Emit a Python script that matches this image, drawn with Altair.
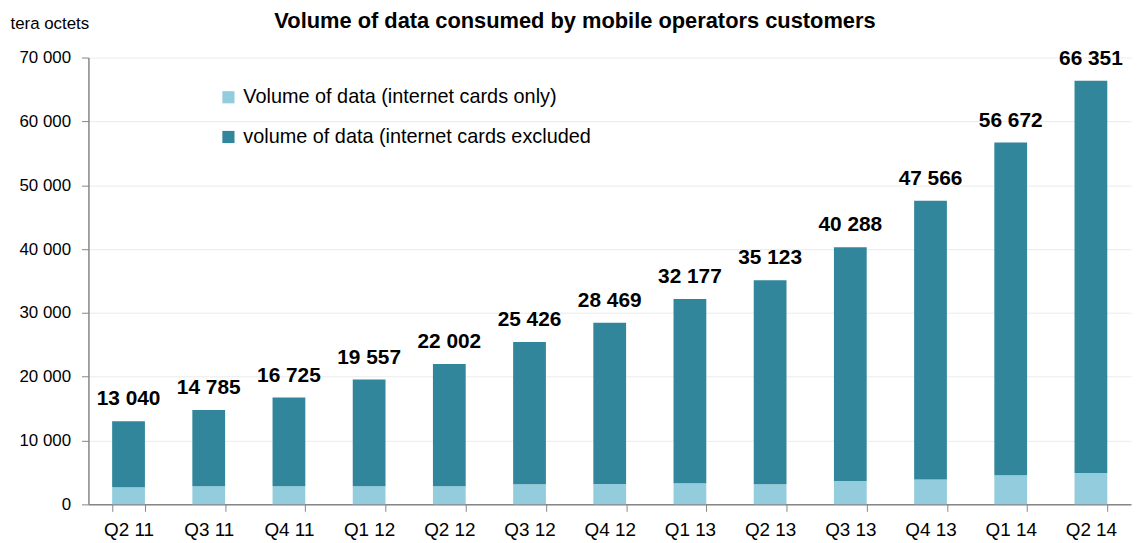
import altair as alt
import pandas as pd

quarters = ["Q2 11", "Q3 11", "Q4 11", "Q1 12", "Q2 12", "Q3 12", "Q4 12",
            "Q1 13", "Q2 13", "Q3 13", "Q4 13", "Q1 14", "Q2 14"]
totals = [13040, 14785, 16725, 19557, 22002, 25426, 28469,
          32177, 35123, 40288, 47566, 56672, 66351]
cards_only = [2700, 2850, 2850, 2850, 2850, 3150, 3200,
              3300, 3150, 3650, 3900, 4550, 4900]
series_names = ["Volume of data (internet cards only)",
                "volume of data (internet cards excluded"]
colors = ["#93CDDD", "#31869B"]
title_text = "Volume of data consumed by mobile operators customers"

rows = []
for q, t, c in zip(quarters, totals, cards_only):
    rows.append({"quarter": q, "series": series_names[0], "value": c, "order": 0})
    rows.append({"quarter": q, "series": series_names[1], "value": t - c, "order": 1})
df = pd.DataFrame(rows)

lab = pd.DataFrame({
    "quarter": quarters,
    "total": totals,
    "label": [f"{t:,}".replace(",", " ") for t in totals],
})

FONT = "Liberation Sans"

x_enc = alt.X("quarter:N", sort=quarters, title=None,
              scale=alt.Scale(paddingInner=0.59, paddingOuter=0.295),
              axis=alt.Axis(tickBand="extent", labelAngle=0, labelFontSize=19,
                            labelFont=FONT, labelColor="#000000", labelPadding=9,
                            domainColor="#868686", tickColor="#868686",
                            tickSize=7, grid=False))

bars = alt.Chart(df).mark_bar(size=33).encode(
    x=x_enc,
    y=alt.Y("sum(value):Q",
            scale=alt.Scale(domain=[0, 70000], nice=False),
            axis=alt.Axis(values=list(range(0, 70001, 10000)),
                          labelExpr="replace(format(datum.value, ','), ',', ' ')",
                          labelFontSize=17, labelFont=FONT, labelColor="#000000",
                          labelPadding=11, domainColor="#868686", tickColor="#868686",
                          tickSize=7, gridColor="#EBEBEB",
                          title="tera octets", titleAngle=0, titleAlign="left",
                          titleBaseline="middle", titleX=-79, titleY=-34,
                          titleFont=FONT, titleFontSize=17, titleFontWeight="normal",
                          titleColor="#000000")),
    color=alt.Color("series:N", sort=series_names,
                    scale=alt.Scale(domain=series_names, range=colors),
                    legend=alt.Legend(title=None, orient="none", legendX=131,
                                      legendY=30, symbolType="square",
                                      symbolSize=150, symbolStrokeWidth=0,
                                      labelFontSize=20, labelFont=FONT,
                                      labelColor="#000000", rowPadding=20,
                                      labelOffset=5, labelLimit=0)),
    order=alt.Order("order:Q", sort="ascending"),
)

texts = alt.Chart(lab).mark_text(
    font=FONT, fontSize=21, fontWeight="bold", color="#000000",
    baseline="alphabetic", dy=-16
).encode(
    x=alt.X("quarter:N", sort=quarters),
    y=alt.Y("total:Q"),
    text="label:N",
)

title_df = pd.DataFrame({"t": [title_text]})
title_mark = alt.Chart(title_df).mark_text(
    font=FONT, fontSize=22, fontWeight="bold", color="#000000",
    baseline="alphabetic", align="center"
).encode(x=alt.value(490), y=alt.value(-30), text="t:N")

chart = alt.layer(bars, texts, title_mark).properties(
    width=1050, height=450,
    autosize=alt.AutoSizeParams(type="none"),
    padding={"left": 81, "top": 48, "right": 2, "bottom": 37},
).configure_view(stroke=None).configure_axis(domainWidth=1.5)

chart.save("out.html", embed_options={"renderer": "svg", "actions": False})
